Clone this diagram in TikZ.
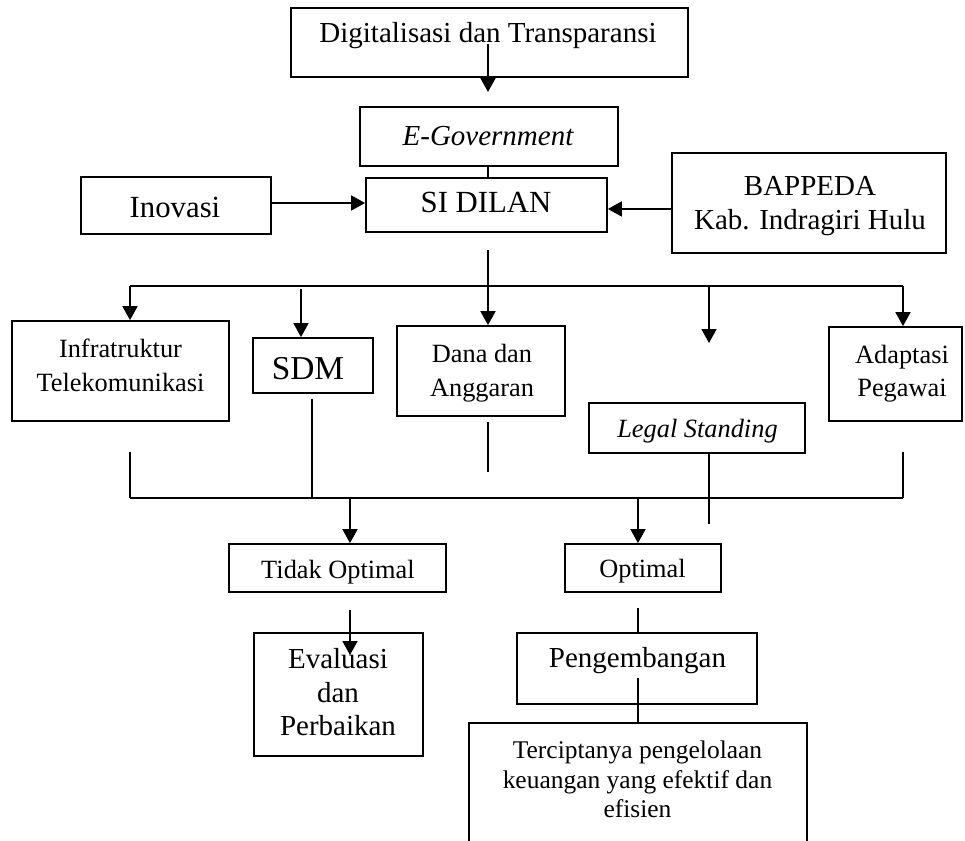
\documentclass[tikz,border=0pt]{standalone}
\usepackage{fontspec}
\setmainfont{Liberation Serif}
\usetikzlibrary{arrows.meta,fit}
\tikzset{
  box/.style={draw, line width=1pt, inner sep=0pt},
  ln/.style={line width=1pt},
  arr/.style={line width=1pt, -{Triangle[width=0.3cm,length=0.28cm]}},
  fA/.style={font=\fontsize{17.5}{21}\selectfont},
  fS/.style={font=\fontsize{19}{22}\selectfont},
  fB/.style={font=\fontsize{16.5}{19.6}\selectfont},
  fC/.style={font=\fontsize{15}{19.8}\selectfont},
  fD/.style={font=\fontsize{14.5}{17}\selectfont},
  txt/.style={anchor=base, align=center, inner sep=0pt},
}
\begin{document}
\begin{tikzpicture}[x=0.02cm,y=-0.02cm]
\useasboundingbox (0,0) rectangle (965,841);
\clip (0,0) rectangle (965,841);
\fill[white] (0,0) rectangle (965,841);

% boxes
\node[box, fit={(291,8) (688,77)}] (dig) {};
\node[box, fit={(360,107) (618,166)}] (egov) {};
\node[box, fit={(366,178) (607,232)}] (sid) {};
\node[box, fit={(81,177) (271,234)}] (ino) {};
\node[box, fit={(672,153) (946,253)}] (bap) {};
\node[box, fit={(12,321) (229,421)}] (inf) {};
\node[box, fit={(253,338) (373,393)}] (sdm) {};
\node[box, fit={(397,326) (565,416)}] (dana) {};
\node[box, fit={(589,403) (805,453)}] (legal) {};
\node[box, fit={(829,327) (962,421)}] (adap) {};
\node[box, fit={(229,544) (446,592)}] (tidak) {};
\node[box, fit={(565,544) (721,592)}] (opt) {};
\node[box, fit={(254,633) (423,756)}] (eval) {};
\node[box, fit={(517,633) (757,704)}] (peng) {};
\node[box, fit={(469,723) (807,870)}] (terc) {};

% texts (multi-line nodes: base = baseline of last line)
\node[txt, fB] (dig-t) at (488,43) {Digitalisasi dan Transparansi};
\node[txt, fB] (egov-t) at (488,146) {\itshape E-Government};
\node[txt, fA] (sid-t) at (486,213) {SI DILAN};
\node[txt, fA] (ino-t) at (175,218) {Inovasi};
\node[txt, fB, font=\fontsize{16.5}{19.9}\selectfont] (bap-t) at (810,230) {BAPPEDA\\Kab. Indragiri Hulu};
\node[txt, fC] (inf-t) at (120.5,392) {Infratruktur\\Telekomunikasi};
\node[txt, fS] (sdm-t) at (308,380) {SDM};
\node[txt, fC] (dana-t) at (482,397) {Dana dan\\Anggaran};
\node[txt, fC] (legal-t) at (697.5,438) {\itshape Legal Standing};
\node[txt, fC, font=\fontsize{15}{19.3}\selectfont] (adap-t) at (902,397) {Adaptasi\\Pegawai};
\node[txt, fC] (tidak-t) at (338,579) {Tidak Optimal};
\node[txt, fC] (opt-t) at (642.5,578) {Optimal};
\node[txt, fB, font=\fontsize{16.5}{19.2}\selectfont] (eval-t) at (338,736) {Evaluasi\\dan\\Perbaikan};
\node[txt, fB] (peng-t) at (637.5,668) {Pengembangan};
\node[txt, fD] (terc-t) at (637.5,818) {Terciptanya pengelolaan\\keuangan yang efektif dan\\efisien};

% coordinates
\coordinate (c1) at (488,44);
\coordinate (c2) at (488,92);
\coordinate (s0) at (488,250);
\coordinate (busL) at (130,286);
\coordinate (busR) at (903,286);
\coordinate (sdmA) at (301,289);
\coordinate (legA) at (709,286);
\coordinate (legB) at (709,343);
\coordinate (lowL) at (130,498);
\coordinate (lowR) at (903,498);
\coordinate (infB) at (130,452);
\coordinate (sdmB) at (312,399);
\coordinate (danaB1) at (488,422);
\coordinate (danaB2) at (488,472);
\coordinate (legC) at (709,524);
\coordinate (adapB) at (903,452);
\coordinate (tA) at (350,498);
\coordinate (oA) at (638,498);
\coordinate (eA) at (350,610);
\coordinate (eB) at (350,655);
\coordinate (pA) at (638,608);
\coordinate (pB) at (638,678);

% connectors
\draw[arr] (c1) -- (c2);
\draw[ln] (egov.south -| c1) -- (sid.north -| c1);
\draw[arr] (ino.east |- 0,203) -- (sid.west |- 0,203);
\draw[arr] (bap.west |- 0,209) -- (sid.east |- 0,209);
\draw[ln] (busL) -- (busR);
\draw[arr] (s0) -- (dana.north -| s0);
\draw[arr] (busL) -- (inf.north -| busL);
\draw[arr] (sdmA) -- (sdm.north -| sdmA);
\draw[arr] (legA) -- (legB);
\draw[arr] (busR) -- (adap.north -| busR);

\draw[ln] (lowL) -- (lowR);
\draw[ln] (infB) -- (lowL);
\draw[ln] (sdmB) -- (sdmB |- lowL);
\draw[ln] (danaB1) -- (danaB2);
\draw[ln] (legal.south -| legC) -- (legC);
\draw[ln] (adapB) -- (lowR);
\draw[arr] (tA) -- (tidak.north -| tA);
\draw[arr] (oA) -- (opt.north -| oA);
\draw[arr] (eA) -- (eB);
\draw[ln] (pA) -- (peng.north -| pA);
\draw[ln] (pB) -- (terc.north -| pB);
\end{tikzpicture}
\end{document}
